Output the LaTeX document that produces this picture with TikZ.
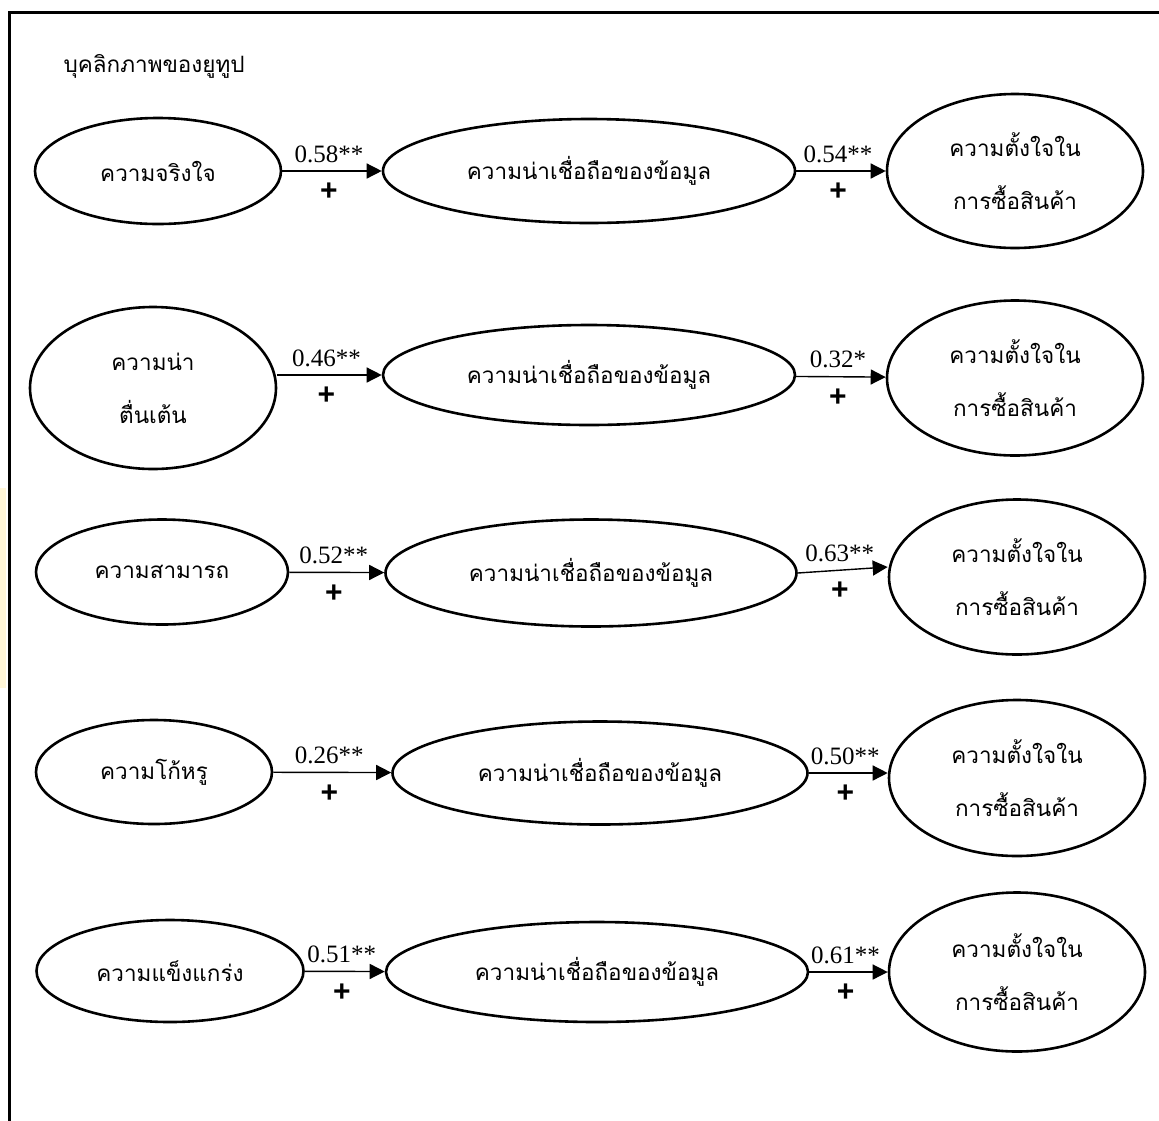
\documentclass[tikz,border=0pt]{standalone}
\usepackage{fontspec}
\setmainfont{Liberation Serif}
\newfontfamily\thai[Script=Thai]{Loma}
\newfontfamily\plusfont{Liberation Sans}
\usetikzlibrary{shapes.geometric,arrows.meta}
\definecolor{strip}{HTML}{FFF6D8}
\tikzset{
  oval/.style={ellipse, draw, line width=2.6pt, inner sep=0pt, align=center,
    font=\thai\fontsize{22.5}{53}\selectfont},
  link/.style={line width=1.4pt, -{Triangle[length=15pt,width=15pt]}},
  coef/.style={font=\fontsize{25}{28}\selectfont, inner sep=0pt, anchor=center, yshift=17pt, xshift=-3pt},
  sign/.style={font=\plusfont\bfseries\fontsize{30}{32}\selectfont, inner sep=0pt, anchor=center, yshift=-21pt, xshift=-3pt},
}
\begin{document}
\begin{tikzpicture}[x=1pt,y=-1pt]
\useasboundingbox (0,0) rectangle (1159,1120);
\fill[strip] (0,488) rectangle (6,688);
\draw[line width=3pt] (9,1125) -- (9,12) -- (1165,12);
\node[anchor=west, font=\thai\fontsize{22.5}{26}\selectfont] (title) at (60,66) {บุคลิกภาพของยูทูป};

% row 1
\node[oval, minimum width=246pt, minimum height=106pt] (l1) at (158,171) {ความจริงใจ};
\node[oval, minimum width=412pt, minimum height=104pt] (m1) at (589,171) {ความน่าเชื่อถือของข้อมูล};
\node[oval, minimum width=256pt, minimum height=154pt] (r1) at (1015,171) {ความตั้งใจใน\\การซื้อสินค้า};
\draw[link] (l1) -- node[coef] (c11) {0.58**} node[sign] (s11) {+} (m1);
\draw[link] (m1) -- node[coef] (c12) {0.54**} node[sign] (s12) {+} (r1);

% row 2
\node[oval, minimum width=246pt, minimum height=162pt] (l2) at (153,388) {ความน่า\\ตื่นเต้น};
\node[oval, minimum width=412pt, minimum height=100pt] (m2) at (589,375) {ความน่าเชื่อถือของข้อมูล};
\node[oval, minimum width=256pt, minimum height=155pt] (r2) at (1015,378) {ความตั้งใจใน\\การซื้อสินค้า};
\draw[link] (l2.east |- 0,375) -- node[coef] (c21) {0.46**} node[sign] (s21) {+} (m2.west);
\draw[link] (m2) -- node[coef] (c22) {0.32*} node[sign] (s22) {+} (r2);

% row 3
\node[oval, minimum width=252pt, minimum height=105pt] (l3) at (162,572) {ความสามารถ};
\node[oval, minimum width=411pt, minimum height=107pt] (m3) at (591,573) {ความน่าเชื่อถือของข้อมูล};
\node[oval, minimum width=256pt, minimum height=155pt] (r3) at (1017,577) {ความตั้งใจใน\\การซื้อสินค้า};
\draw[link] (l3) -- node[coef] (c31) {0.52**} node[sign] (s31) {+} (m3);
\draw[link] (m3.east) -- node[coef] (c32) {0.63**} node[sign] (s32) {+} (r3.west |- 0,567);

% row 4
\node[oval, minimum width=236pt, minimum height=104pt] (l4) at (154,772) {ความโก้หรู};
\node[oval, minimum width=415pt, minimum height=103pt] (m4) at (600,773) {ความน่าเชื่อถือของข้อมูล};
\node[oval, minimum width=256pt, minimum height=156pt] (r4) at (1017,778) {ความตั้งใจใน\\การซื้อสินค้า};
\draw[link] (l4) -- node[coef] (c41) {0.26**} node[sign] (s41) {+} (m4);
\draw[link] (m4.east) -- node[coef] (c42) {0.50**} node[sign] (s42) {+} (r4.west |- 0,773);

% row 5
\node[oval, minimum width=267pt, minimum height=102pt] (l5) at (170,971) {ความแข็งแกร่ง};
\node[oval, minimum width=422pt, minimum height=100pt] (m5) at (597,972) {ความน่าเชื่อถือของข้อมูล};
\node[oval, minimum width=256pt, minimum height=159pt] (r5) at (1017,972) {ความตั้งใจใน\\การซื้อสินค้า};
\draw[link] (l5) -- node[coef] (c51) {0.51**} node[sign] (s51) {+} (m5);
\draw[link] (m5) -- node[coef] (c52) {0.61**} node[sign] (s52) {+} (r5);
\end{tikzpicture}
\end{document}
